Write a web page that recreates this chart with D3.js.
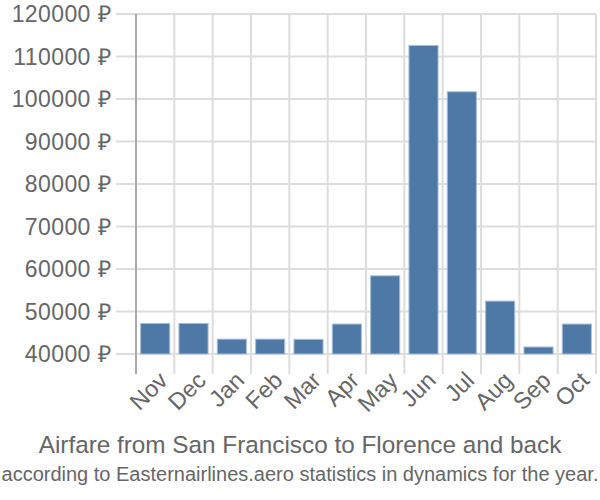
<!DOCTYPE html>
<html lang="en">
<head>
  <meta charset="UTF-8">
  <title>Airfare San Francisco - Florence</title>
  <script src="https://cdn.jsdelivr.net/npm/d3@7"></script>
  <style>
    body { margin: 0; background: #fff; }
    text { font-family: "Liberation Sans", Arial, sans-serif; fill: #666; }
  </style>
</head>
<body>
  <script>
    // chart data
    var months = ["Nov", "Dec", "Jan", "Feb", "Mar", "Apr", "May", "Jun", "Jul", "Aug", "Sep", "Oct"];
    var prices = [47200, 47200, 43500, 43500, 43450, 47050, 58400, 112600, 101700, 52450, 41650, 47050];
    var yTicks = [40000, 50000, 60000, 70000, 80000, 90000, 100000, 110000, 120000];

    var width = 600, height = 500;
    var plotLeft = 136, plotRight = 596, plotTop = 14, plotBottom = 354;
    var tickLen = 20;

    var svg = d3.select("body")
      .append("svg")
        .attr("width", width)
        .attr("height", height);

    var x = d3.scaleBand()
      .domain(months)
      .range([plotLeft, plotRight])
      .paddingInner(0.24)
      .paddingOuter(0.12);

    var y = d3.scaleLinear()
      .domain([40000, 120000])
      .range([plotBottom, plotTop]);

    // vertical grid lines (band edges), extending below as ticks
    var step = x.step();
    var edges = d3.range(1, months.length + 1).map(function(i) { return plotLeft + i * step; });
    svg.append("g")
      .selectAll("line")
      .data(edges)
      .enter().append("line")
        .attr("x1", function(d) { return d; })
        .attr("x2", function(d) { return d; })
        .attr("y1", plotTop)
        .attr("y2", plotBottom + tickLen)
        .attr("stroke", "#ddd")
        .attr("stroke-width", 2);

    // horizontal grid lines
    svg.append("g")
      .selectAll("line")
      .data(yTicks)
      .enter().append("line")
        .attr("x1", plotLeft - tickLen)
        .attr("x2", plotRight)
        .attr("y1", function(d) { return y(d); })
        .attr("y2", function(d) { return y(d); })
        .attr("stroke", "#ddd")
        .attr("stroke-width", 2);

    // y axis line
    svg.append("line")
      .attr("x1", plotLeft).attr("x2", plotLeft)
      .attr("y1", plotTop).attr("y2", plotBottom + tickLen)
      .attr("stroke", "#aaa")
      .attr("stroke-width", 2);

    // y labels
    svg.append("g")
      .selectAll("text")
      .data(yTicks)
      .enter().append("text")
        .attr("x", plotLeft - tickLen - 5)
        .attr("y", function(d) { return y(d); })
        .attr("dy", "0.35em")
        .attr("text-anchor", "end")
        .style("font-size", "23px")
        .style("letter-spacing", "0.4px")
        .text(function(d) { return d + " \u20BD"; });

    // bars
    svg.append("g")
      .selectAll("rect")
      .data(months)
      .enter().append("rect")
        .attr("x", function(d) { return x(d); })
        .attr("width", x.bandwidth())
        .attr("y", function(d, i) { return y(prices[i]); })
        .attr("height", function(d, i) { return plotBottom - y(prices[i]); })
        .attr("fill", "#4e79a7")
        .attr("stroke", "#a8bfd8")
        .attr("stroke-width", 1);

    // x labels
    svg.append("g")
      .selectAll("text")
      .data(months)
      .enter().append("text")
        .attr("text-anchor", "end")
        .attr("transform", function(d) {
          var cx = x(d) + x.bandwidth() / 2 + 8;
          return "translate(" + cx + "," + (plotBottom + tickLen + 2) + ") rotate(-45)";
        })
        .attr("dy", "0.35em")
        .style("font-size", "23.5px")
        .text(function(d) { return d; });

    // titles
    svg.append("text")
      .attr("x", 300).attr("y", 453)
      .attr("text-anchor", "middle")
      .style("font-size", "24.3px")
      .text("Airfare from San Francisco to Florence and back");

    svg.append("text")
      .attr("x", 300).attr("y", 481)
      .attr("text-anchor", "middle")
      .style("font-size", "20px")
      .text("according to Easternairlines.aero statistics in dynamics for the year.");
  </script>
</body>
</html>
